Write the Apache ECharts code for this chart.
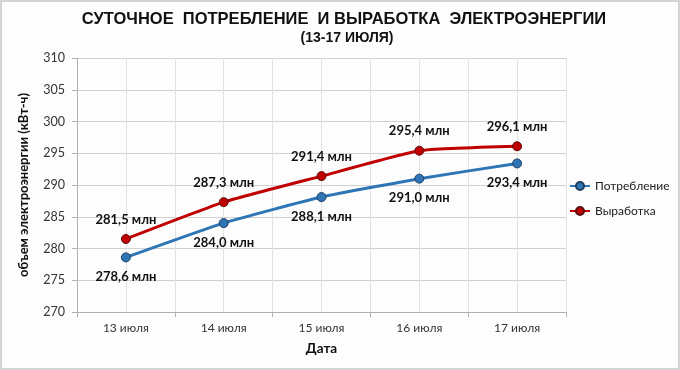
<!DOCTYPE html>
<html><head><meta charset="utf-8">
<script src="https://cdn.jsdelivr.net/npm/echarts@6/dist/echarts.min.js"></script>
<style>html,body{margin:0;padding:0;background:#fff}#c{width:680px;height:370px;box-sizing:border-box;border:2px solid #d4d4d4;background:#fdfdfd}</style>
</head><body><div id="c"></div>
<script>
const categories = ['13 июля','14 июля','15 июля','16 июля','17 июля'];
const consumption = [278.6, 284.0, 288.1, 291.0, 293.4];
const production = [281.5, 287.3, 291.4, 295.4, 296.1];
const yTicks = {min: 270, max: 310, interval: 5};
const fmt = v => v.toFixed(1).replace('.', ',') + ' млн';
const F = 'Lato, "Open Sans", sans-serif';
const chart = echarts.init(document.getElementById('c'));
chart.setOption({
  animation: false,
  title: [
    {text: 'СУТОЧНОЕ  ПОТРЕБЛЕНИЕ  И ВЫРАБОТКА  ЭЛЕКТРОЭНЕРГИИ', left: 337, top: 4, textAlign: 'center',
     textStyle: {fontFamily: '"Liberation Sans", Arial, sans-serif', fontWeight: 'bold', fontSize: 16.5, color: '#111'}},
    {text: '(13-17 ИЮЛЯ)', left: 340, top: 24, textAlign: 'center',
     textStyle: {fontFamily: '"Liberation Sans", Arial, sans-serif', fontWeight: 'bold', fontSize: 14, color: '#111'}}
  ],
  grid: {left: 75, right: 112, top: 56, bottom: 56, containLabel: false},
  legend: {orient: 'vertical', left: 567, top: 178, itemGap: 13, itemWidth: 20, itemHeight: 10, padding: 0,
    textStyle: {fontFamily: F, fontSize: 12, color: '#222'},
    data: ['Потребление','Выработка']},
  xAxis: [
    {type: 'category', data: categories, boundaryGap: true,
     axisLine: {lineStyle: {color: '#b0b0b0'}}, axisTick: {show: true, length: 5, lineStyle: {color: '#b0b0b0'}},
     axisLabel: {fontFamily: F, fontSize: 12, color: '#333', margin: 10},
     splitLine: {show: false},
     name: 'Дата', nameLocation: 'middle', nameGap: 30,
     nameTextStyle: {fontFamily: F, fontWeight: 'bold', fontSize: 13.5, color: '#111'}},
    {type: 'value', min: 0, max: 10, interval: 1, show: true, position: 'top',
     axisLine: {show: false}, axisTick: {show: false}, axisLabel: {show: false},
     splitLine: {show: true, lineStyle: {color: '#e2e2e2', width: 1}}}
  ],
  yAxis: {type: 'value', min: yTicks.min, max: yTicks.max, interval: yTicks.interval,
    axisLine: {show: true, lineStyle: {color: '#b0b0b0'}},
    axisTick: {show: true, length: 5, lineStyle: {color: '#b0b0b0'}},
    axisLabel: {fontFamily: F, fontSize: 12.5, color: '#333', margin: 12},
    splitLine: {lineStyle: {color: '#d0d0d0'}},
    name: 'объем электроэнергии (кВт-ч)', nameLocation: 'middle', nameGap: 47,
    nameTextStyle: {fontFamily: F, fontWeight: 'bold', fontSize: 13, color: '#111'}},
  series: [
    {name: 'Потребление', type: 'line', data: consumption, smooth: 0.15,
     symbol: 'circle', symbolSize: 9,
     lineStyle: {color: '#2e75b6', width: 3},
     itemStyle: {color: '#2e75b6', borderColor: '#1f3f60', borderWidth: 1},
     label: {show: true, position: 'bottom', distance: 8, formatter: p => fmt(p.value),
       fontFamily: F, fontWeight: 'bold', fontSize: 13, color: '#111'}},
    {name: 'Выработка', type: 'line', data: production, smooth: 0.15,
     symbol: 'circle', symbolSize: 9,
     lineStyle: {color: '#c00000', width: 3},
     itemStyle: {color: '#c00000', borderColor: '#5a1010', borderWidth: 1},
     label: {show: true, position: 'top', distance: 8, formatter: p => fmt(p.value),
       fontFamily: F, fontWeight: 'bold', fontSize: 13, color: '#111'}}
  ]
});
</script></body></html>
